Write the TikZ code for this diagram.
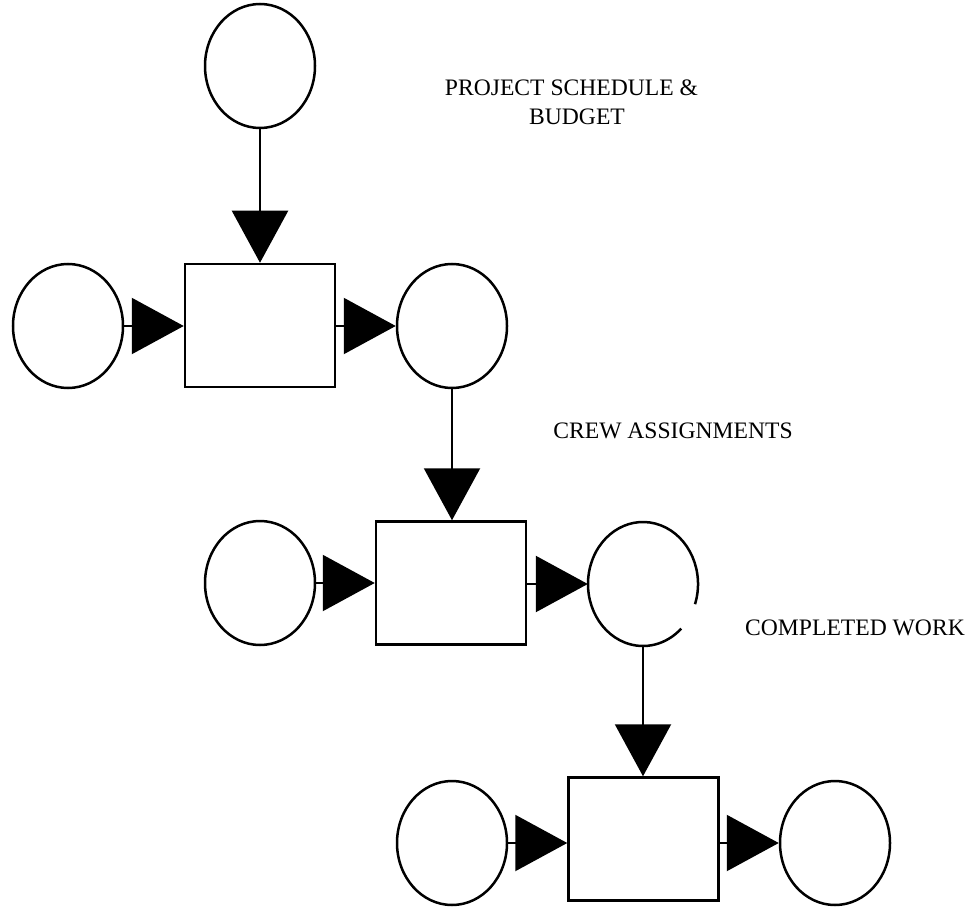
\documentclass[tikz,border=0pt]{standalone}
\usepackage{fontspec}
\setmainfont{Liberation Serif}
\usetikzlibrary{shapes.geometric,arrows.meta,calc}

\tikzset{
  place/.style={ellipse, draw, line width=2.5pt, minimum width=110pt, minimum height=124pt, inner sep=0pt},
  hiddenplace/.style={ellipse, minimum width=110pt, minimum height=124pt, inner sep=0pt},
  transition/.style={rectangle, draw, line width=2.5pt, minimum width=150pt, minimum height=123pt, inner sep=0pt},
  flow/.style={line width=2.2pt, -{Triangle[length=52pt, width=56pt]}},
  label/.style={font=\fontsize{23.6pt}{29pt}\selectfont, inner sep=0pt, anchor=base}
}

\begin{document}
\begin{tikzpicture}[x=1pt, y=-1pt]
  \useasboundingbox (0,0) rectangle (976,909);

  % first stage
  \node[place] (top) at (260,66) {};
  \node[place] (in1) at (68,326) {};
  \node[transition] (t1) at (260,325.5) {};
  \node[place] (out1) at (452,326) {};

  % second stage
  \node[place] (in2) at (260,583) {};
  \node[transition] (t2) at (451,583) {};
  \node[hiddenplace] (out2) at (643,584) {};
  \draw[line width=2.5pt] ($(out2.center)+(-19:55pt and 62pt)$)
    arc[start angle=-19, end angle=314, x radius=55pt, y radius=62pt];

  % third stage
  \node[place] (in3) at (452,843) {};
  \node[transition] (t3) at (643.5,839) {};
  \node[place] (out3) at (835,843) {};

  % flows
  \draw[flow] (top.south) -- (top.south |- t1.north);
  \draw[flow] (in1.east) -- (in1.east -| t1.west);
  \draw[flow] (t1.east |- out1.west) -- (out1.west);

  \draw[flow] (out1.south) -- (out1.south |- t2.north);
  \draw[flow] (in2.east) -- (in2.east -| t2.west);
  \draw[flow] (t2.east |- out2.west) -- (out2.west);

  \draw[flow] (out2.south) -- (out2.south |- t3.north);
  \draw[flow] (in3.east) -- (in3.east -| t3.west);
  \draw[flow] (t3.east |- out3.west) -- (out3.west);

  % labels
  \node[label] (lab1a) at (571.5,96) {PROJECT SCHEDULE \&};
  \node[label] (lab1b) at (577,125) {BUDGET};
  \node[label] (lab2) at (673,438) {CREW ASSIGNMENTS};
  \node[label] (lab3) at (855,635) {COMPLETED WORK};
\end{tikzpicture}
\end{document}
